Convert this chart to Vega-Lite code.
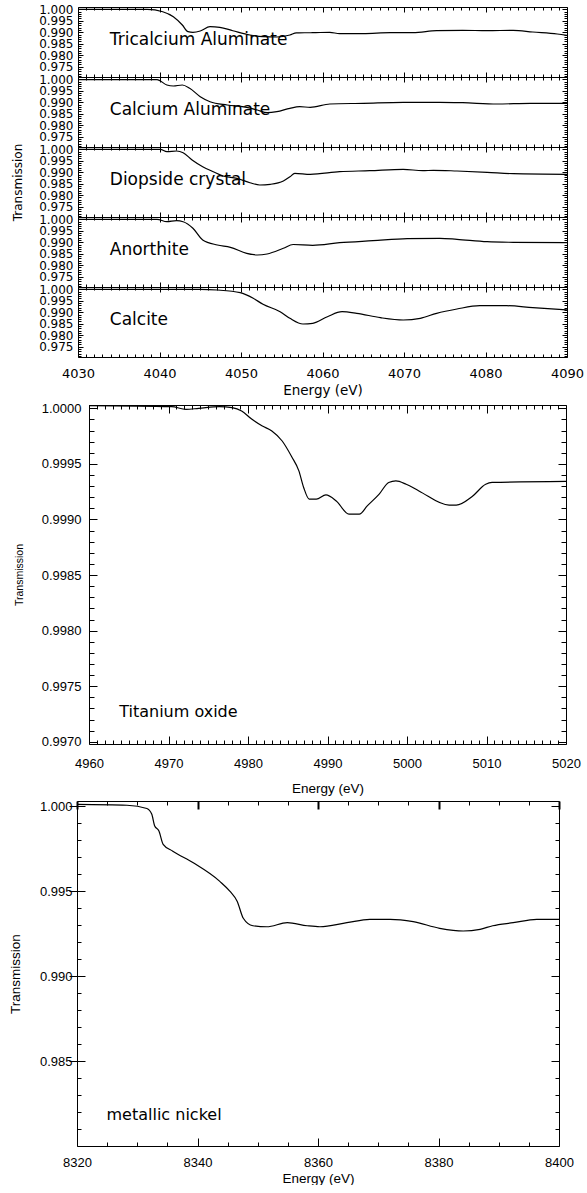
{
  "$schema": "https://vega.github.io/schema/vega-lite/v6.json",
  "padding": {"left": 3, "top": 2, "right": 0, "bottom": 0},
  "config": {
    "view": {"stroke": "black", "strokeWidth": 1},
    "axis": {"grid": false, "domain": false, "labels": false, "ticks": true, "tickColor": "black", "tickWidth": 1, "tickOpacity": 1, "labelColor": "black", "titleColor": "black", "titleFontWeight": "normal", "labelOverlap": false, "labelFlush": false, "labelBound": false}
  },
  "datasets": {
    "tca": [
      {"E": 4030, "T": 1.0}, {"E": 4038.5, "T": 1.0}, {"E": 4040.4, "T": 0.99895}, {"E": 4041.7, "T": 0.99677},
      {"E": 4042.8, "T": 0.99316}, {"E": 4043.5, "T": 0.99024}, {"E": 4044.1, "T": 0.98998}, {"E": 4045.0, "T": 0.99054},
      {"E": 4046.2, "T": 0.99242}, {"E": 4047.4, "T": 0.99216}, {"E": 4049.0, "T": 0.99067}, {"E": 4051.1, "T": 0.9888},
      {"E": 4052.7, "T": 0.98806}, {"E": 4054.4, "T": 0.98793}, {"E": 4056.0, "T": 0.9888}, {"E": 4056.8, "T": 0.98975},
      {"E": 4058.8, "T": 0.9898}, {"E": 4060.9, "T": 0.98998}, {"E": 4062.1, "T": 0.98937}, {"E": 4065.0, "T": 0.98937},
      {"E": 4068.3, "T": 0.9898}, {"E": 4071.1, "T": 0.9898}, {"E": 4074.0, "T": 0.99067}, {"E": 4077.2, "T": 0.99085},
      {"E": 4080.2, "T": 0.99067}, {"E": 4083.4, "T": 0.99085}, {"E": 4085.8, "T": 0.99011}, {"E": 4088.8, "T": 0.98924},
      {"E": 4090, "T": 0.98867}
    ],
    "cal": [
      {"E": 4030, "T": 0.9999}, {"E": 4039.7, "T": 0.9999}, {"E": 4040.9, "T": 0.99751}, {"E": 4041.7, "T": 0.99708},
      {"E": 4042.8, "T": 0.99751}, {"E": 4043.7, "T": 0.99608}, {"E": 4045.0, "T": 0.99242}, {"E": 4046.2, "T": 0.99024},
      {"E": 4048.3, "T": 0.9888}, {"E": 4050.7, "T": 0.9878}, {"E": 4052.0, "T": 0.98662}, {"E": 4053.2, "T": 0.98544},
      {"E": 4054.4, "T": 0.98588}, {"E": 4056.0, "T": 0.98736}, {"E": 4057.2, "T": 0.98806}, {"E": 4058.5, "T": 0.9878},
      {"E": 4060.9, "T": 0.98924}, {"E": 4065.0, "T": 0.98954}, {"E": 4069.9, "T": 0.98998}, {"E": 4074.4, "T": 0.98998},
      {"E": 4077.2, "T": 0.9898}, {"E": 4081.4, "T": 0.98924}, {"E": 4085.5, "T": 0.98954}, {"E": 4090, "T": 0.98954}
    ],
    "dio": [
      {"E": 4030, "T": 1.0}, {"E": 4040.1, "T": 1.0}, {"E": 4040.9, "T": 0.99895}, {"E": 4042.1, "T": 0.99926},
      {"E": 4042.9, "T": 0.99852}, {"E": 4044.0, "T": 0.99534}, {"E": 4045.3, "T": 0.99242}, {"E": 4046.6, "T": 0.99024},
      {"E": 4047.8, "T": 0.98836}, {"E": 4049.5, "T": 0.98736}, {"E": 4051.1, "T": 0.98544}, {"E": 4052.3, "T": 0.98444},
      {"E": 4053.6, "T": 0.98475}, {"E": 4055.2, "T": 0.98619}, {"E": 4056.0, "T": 0.988}, {"E": 4056.6, "T": 0.98955},
      {"E": 4058.5, "T": 0.98911}, {"E": 4062.1, "T": 0.99024}, {"E": 4065.8, "T": 0.99067}, {"E": 4069.9, "T": 0.99128},
      {"E": 4072.3, "T": 0.99067}, {"E": 4073.6, "T": 0.99085}, {"E": 4076.5, "T": 0.99054}, {"E": 4080.2, "T": 0.98998},
      {"E": 4083.4, "T": 0.98937}, {"E": 4090, "T": 0.98911}
    ],
    "ano": [
      {"E": 4030, "T": 1.0}, {"E": 4039.7, "T": 1.0}, {"E": 4040.9, "T": 0.99895}, {"E": 4042.1, "T": 0.99939},
      {"E": 4042.9, "T": 0.99895}, {"E": 4044.1, "T": 0.99608}, {"E": 4045.3, "T": 0.99098}, {"E": 4047.1, "T": 0.9888},
      {"E": 4048.7, "T": 0.9878}, {"E": 4050.7, "T": 0.98518}, {"E": 4052.0, "T": 0.98444}, {"E": 4053.2, "T": 0.98488},
      {"E": 4055.2, "T": 0.98736}, {"E": 4056.4, "T": 0.98902}, {"E": 4058.8, "T": 0.98867}, {"E": 4062.1, "T": 0.9898},
      {"E": 4066.2, "T": 0.99067}, {"E": 4070.4, "T": 0.99155}, {"E": 4074.4, "T": 0.99172}, {"E": 4076.5, "T": 0.99128},
      {"E": 4080.2, "T": 0.99024}, {"E": 4083.4, "T": 0.98998}, {"E": 4090, "T": 0.9898}
    ],
    "calc": [
      {"E": 4030, "T": 1.0}, {"E": 4045.0, "T": 1.0}, {"E": 4047.1, "T": 0.99969}, {"E": 4049.9, "T": 0.99852},
      {"E": 4051.5, "T": 0.99608}, {"E": 4052.7, "T": 0.99346}, {"E": 4054.8, "T": 0.99024}, {"E": 4056.0, "T": 0.98736},
      {"E": 4057.6, "T": 0.98488}, {"E": 4058.8, "T": 0.98518}, {"E": 4060.6, "T": 0.98806}, {"E": 4062.4, "T": 0.99024},
      {"E": 4064.2, "T": 0.98954}, {"E": 4067.1, "T": 0.98762}, {"E": 4069.9, "T": 0.98662}, {"E": 4072.0, "T": 0.98736},
      {"E": 4074.0, "T": 0.98954}, {"E": 4076.5, "T": 0.99141}, {"E": 4079.3, "T": 0.99285}, {"E": 4082.6, "T": 0.99285},
      {"E": 4085.8, "T": 0.99198}, {"E": 4090, "T": 0.99098}
    ],
    "ti": [
      {"E": 4960, "T": 1.000025}, {"E": 4970.4, "T": 1.000015}, {"E": 4972.2, "T": 0.999991}, {"E": 4973.8, "T": 1.0},
      {"E": 4976.4, "T": 1.000015}, {"E": 4978.0, "T": 1.000006}, {"E": 4979.2, "T": 0.999976}, {"E": 4980.5, "T": 0.999901},
      {"E": 4981.8, "T": 0.999841}, {"E": 4983.0, "T": 0.999796}, {"E": 4984.3, "T": 0.999706}, {"E": 4985.5, "T": 0.999564},
      {"E": 4986.4, "T": 0.999437}, {"E": 4987.0, "T": 0.999288}, {"E": 4987.7, "T": 0.999183}, {"E": 4988.6, "T": 0.999183},
      {"E": 4989.8, "T": 0.999221}, {"E": 4991.1, "T": 0.999167}, {"E": 4992.7, "T": 0.999048}, {"E": 4994.0, "T": 0.999048},
      {"E": 4995.0, "T": 0.999122}, {"E": 4996.5, "T": 0.999228}, {"E": 4997.7, "T": 0.999333}, {"E": 4998.6, "T": 0.999347},
      {"E": 4999.9, "T": 0.999317}, {"E": 5001.5, "T": 0.999257}, {"E": 5005.3, "T": 0.999129}, {"E": 5006.2, "T": 0.999129},
      {"E": 5008.2, "T": 0.999207}, {"E": 5009.9, "T": 0.999317}, {"E": 5010.7, "T": 0.999333}, {"E": 5020, "T": 0.999342}
    ],
    "ni": [
      {"E": 8320, "T": 1.0001}, {"E": 8328.3, "T": 1.00005}, {"E": 8331.6, "T": 0.99986}, {"E": 8332.4, "T": 0.99953},
      {"E": 8332.9, "T": 0.99883}, {"E": 8333.6, "T": 0.99854}, {"E": 8334.3, "T": 0.99775}, {"E": 8335.9, "T": 0.99735},
      {"E": 8339.3, "T": 0.99666}, {"E": 8343.7, "T": 0.99557}, {"E": 8345.4, "T": 0.99498}, {"E": 8346.6, "T": 0.99439},
      {"E": 8347.6, "T": 0.9934}, {"E": 8349.2, "T": 0.99296}, {"E": 8351.5, "T": 0.9929}, {"E": 8354.9, "T": 0.99314},
      {"E": 8358.2, "T": 0.99296}, {"E": 8360.3, "T": 0.9929}, {"E": 8364.8, "T": 0.99314}, {"E": 8368.6, "T": 0.99334},
      {"E": 8372.0, "T": 0.99334}, {"E": 8375.8, "T": 0.9932}, {"E": 8380.2, "T": 0.99281}, {"E": 8384.1, "T": 0.99265},
      {"E": 8386.9, "T": 0.99275}, {"E": 8389.0, "T": 0.99296}, {"E": 8392.4, "T": 0.99314}, {"E": 8396.3, "T": 0.99334},
      {"E": 8400, "T": 0.99334}
    ]
  },
  "concat": [
    {
      "hconcat": [
        {"width": 7.7, "height": 1, "view": {"stroke": null}, "data": {"values": []}, "mark": "point", "encoding": {}},
        {
          "concat": [
            {
              "width": 489, "height": 70,
              "layer": [
                {"data": {"name": "tca"}, "mark": {"type": "line", "interpolate": "monotone", "color": "black", "strokeWidth": 1.2},
                 "encoding": {
                   "x": {"field": "E", "type": "quantitative", "scale": {"domain": [4030, 4090], "nice": false, "zero": false}, "axis": null},
                   "y": {"field": "T", "type": "quantitative", "scale": {"domain": [0.9705, 1.001], "nice": false, "zero": false}, "axis": {"orient": "left", "labels": true, "ticks": false, "title": null, "values": [0.975,0.98,0.985,0.99,0.995,1.0], "format": ".3f", "labelFont": "DejaVu Sans", "labelFontSize": 12, "labelPadding": 5}}
                 }},
                {"data": {"values": [{"E": 4033.9, "T": 0.9868, "label": "Tricalcium Aluminate"}]},
                 "mark": {"type": "text", "align": "left", "baseline": "middle", "font": "DejaVu Sans", "fontSize": 17, "color": "black"},
                 "encoding": {
                   "x": {"field": "E", "type": "quantitative", "scale": {"domain": [4030, 4090], "nice": false, "zero": false}, "axis": {"orient": "top", "zindex": 1, "title": null, "values": [4030,4040,4050,4060,4070,4080,4090], "tickSize": 5, "offset": -5}},
                   "y": {"field": "T", "type": "quantitative", "scale": {"domain": [0.9705, 1.001], "nice": false, "zero": false}, "axis": {"orient": "right", "zindex": 1, "title": null, "values": [0.975,0.98,0.985,0.99,0.995,1.0], "tickSize": 5, "offset": -5}},
                   "text": {"field": "label"}
                 }},
                {"data": {"values": [{"E": 4033.9, "T": 0.9868}]}, "mark": {"type": "point", "opacity": 0},
                 "encoding": {
                   "x": {"field": "E", "type": "quantitative", "scale": {"domain": [4030, 4090], "nice": false, "zero": false}, "axis": {"orient": "bottom", "zindex": 1, "title": null, "values": [4030,4040,4050,4060,4070,4080,4090], "tickSize": 5, "offset": -5}},
                   "y": {"field": "T", "type": "quantitative", "scale": {"domain": [0.9705, 1.001], "nice": false, "zero": false}, "axis": {"orient": "left", "zindex": 1, "title": null, "values": [0.975,0.98,0.985,0.99,0.995,1.0], "tickSize": 5, "offset": -5}}
                 }},
                {"data": {"values": [{"E": 4033.9, "T": 0.9868}]}, "mark": {"type": "point", "opacity": 0},
                 "encoding": {
                   "x": {"field": "E", "type": "quantitative", "scale": {"domain": [4030, 4090], "nice": false, "zero": false}, "axis": {"orient": "bottom", "zindex": 1, "title": null, "values": [4031,4032,4033,4034,4035,4036,4037,4038,4039,4041,4042,4043,4044,4045,4046,4047,4048,4049,4051,4052,4053,4054,4055,4056,4057,4058,4059,4061,4062,4063,4064,4065,4066,4067,4068,4069,4071,4072,4073,4074,4075,4076,4077,4078,4079,4081,4082,4083,4084,4085,4086,4087,4088,4089], "tickSize": 3, "offset": -3}},
                   "y": {"field": "T", "type": "quantitative", "scale": {"domain": [0.9705, 1.001], "nice": false, "zero": false}, "axis": {"orient": "left", "zindex": 1, "title": null, "values": [0.971,0.972,0.973,0.974,0.976,0.977,0.978,0.979,0.981,0.982,0.983,0.984,0.986,0.987,0.988,0.989,0.991,0.992,0.993,0.994,0.996,0.997,0.998,0.999], "tickSize": 3, "offset": -3}}
                 }},
                {"data": {"values": [{"E": 4033.9, "T": 0.9868}]}, "mark": {"type": "point", "opacity": 0},
                 "encoding": {
                   "x": {"field": "E", "type": "quantitative", "scale": {"domain": [4030, 4090], "nice": false, "zero": false}, "axis": {"orient": "top", "zindex": 1, "title": null, "values": [4031,4032,4033,4034,4035,4036,4037,4038,4039,4041,4042,4043,4044,4045,4046,4047,4048,4049,4051,4052,4053,4054,4055,4056,4057,4058,4059,4061,4062,4063,4064,4065,4066,4067,4068,4069,4071,4072,4073,4074,4075,4076,4077,4078,4079,4081,4082,4083,4084,4085,4086,4087,4088,4089], "tickSize": 3, "offset": -3}},
                   "y": {"field": "T", "type": "quantitative", "scale": {"domain": [0.9705, 1.001], "nice": false, "zero": false}, "axis": {"orient": "right", "zindex": 1, "title": null, "values": [0.971,0.972,0.973,0.974,0.976,0.977,0.978,0.979,0.981,0.982,0.983,0.984,0.986,0.987,0.988,0.989,0.991,0.992,0.993,0.994,0.996,0.997,0.998,0.999], "tickSize": 3, "offset": -3}}
                 }}
              ],
              "resolve": {"axis": {"x": "independent", "y": "independent"}}
            },
            {
              "width": 489, "height": 70,
              "layer": [
                {"data": {"name": "cal"}, "mark": {"type": "line", "interpolate": "monotone", "color": "black", "strokeWidth": 1.2},
                 "encoding": {
                   "x": {"field": "E", "type": "quantitative", "scale": {"domain": [4030, 4090], "nice": false, "zero": false}, "axis": null},
                   "y": {"field": "T", "type": "quantitative", "scale": {"domain": [0.9705, 1.001], "nice": false, "zero": false}, "axis": {"orient": "left", "labels": true, "ticks": false, "title": null, "values": [0.975,0.98,0.985,0.99,0.995,1.0], "format": ".3f", "labelFont": "DejaVu Sans", "labelFontSize": 12, "labelPadding": 5}}
                 }},
                {"data": {"values": [{"E": 4033.9, "T": 0.9868, "label": "Calcium Aluminate"}]},
                 "mark": {"type": "text", "align": "left", "baseline": "middle", "font": "DejaVu Sans", "fontSize": 17, "color": "black"},
                 "encoding": {
                   "x": {"field": "E", "type": "quantitative", "scale": {"domain": [4030, 4090], "nice": false, "zero": false}, "axis": {"orient": "top", "title": null, "values": [4030,4040,4050,4060,4070,4080,4090], "tickSize": 5, "offset": -5}},
                   "y": {"field": "T", "type": "quantitative", "scale": {"domain": [0.9705, 1.001], "nice": false, "zero": false}, "axis": {"orient": "right", "title": null, "values": [0.975,0.98,0.985,0.99,0.995,1.0], "tickSize": 5, "offset": -5}},
                   "text": {"field": "label"}
                 }},
                {"data": {"values": [{"E": 4033.9, "T": 0.9868}]}, "mark": {"type": "point", "opacity": 0},
                 "encoding": {
                   "x": {"field": "E", "type": "quantitative", "scale": {"domain": [4030, 4090], "nice": false, "zero": false}, "axis": {"orient": "bottom", "title": null, "values": [4030,4040,4050,4060,4070,4080,4090], "tickSize": 5, "offset": -5}},
                   "y": {"field": "T", "type": "quantitative", "scale": {"domain": [0.9705, 1.001], "nice": false, "zero": false}, "axis": {"orient": "left", "title": null, "values": [0.975,0.98,0.985,0.99,0.995,1.0], "tickSize": 5, "offset": -5}}
                 }},
                {"data": {"values": [{"E": 4033.9, "T": 0.9868}]}, "mark": {"type": "point", "opacity": 0},
                 "encoding": {
                   "x": {"field": "E", "type": "quantitative", "scale": {"domain": [4030, 4090], "nice": false, "zero": false}, "axis": {"orient": "bottom", "title": null, "values": [4031,4032,4033,4034,4035,4036,4037,4038,4039,4041,4042,4043,4044,4045,4046,4047,4048,4049,4051,4052,4053,4054,4055,4056,4057,4058,4059,4061,4062,4063,4064,4065,4066,4067,4068,4069,4071,4072,4073,4074,4075,4076,4077,4078,4079,4081,4082,4083,4084,4085,4086,4087,4088,4089], "tickSize": 3, "offset": -3}},
                   "y": {"field": "T", "type": "quantitative", "scale": {"domain": [0.9705, 1.001], "nice": false, "zero": false}, "axis": {"orient": "left", "title": null, "values": [0.971,0.972,0.973,0.974,0.976,0.977,0.978,0.979,0.981,0.982,0.983,0.984,0.986,0.987,0.988,0.989,0.991,0.992,0.993,0.994,0.996,0.997,0.998,0.999], "tickSize": 3, "offset": -3}}
                 }},
                {"data": {"values": [{"E": 4033.9, "T": 0.9868}]}, "mark": {"type": "point", "opacity": 0},
                 "encoding": {
                   "x": {"field": "E", "type": "quantitative", "scale": {"domain": [4030, 4090], "nice": false, "zero": false}, "axis": {"orient": "top", "title": null, "values": [4031,4032,4033,4034,4035,4036,4037,4038,4039,4041,4042,4043,4044,4045,4046,4047,4048,4049,4051,4052,4053,4054,4055,4056,4057,4058,4059,4061,4062,4063,4064,4065,4066,4067,4068,4069,4071,4072,4073,4074,4075,4076,4077,4078,4079,4081,4082,4083,4084,4085,4086,4087,4088,4089], "tickSize": 3, "offset": -3}},
                   "y": {"field": "T", "type": "quantitative", "scale": {"domain": [0.9705, 1.001], "nice": false, "zero": false}, "axis": {"orient": "right", "title": null, "values": [0.971,0.972,0.973,0.974,0.976,0.977,0.978,0.979,0.981,0.982,0.983,0.984,0.986,0.987,0.988,0.989,0.991,0.992,0.993,0.994,0.996,0.997,0.998,0.999], "tickSize": 3, "offset": -3}}
                 }}
              ],
              "resolve": {"axis": {"x": "independent", "y": "independent"}}
            },
            {
              "width": 489, "height": 70,
              "layer": [
                {"data": {"name": "dio"}, "mark": {"type": "line", "interpolate": "monotone", "color": "black", "strokeWidth": 1.2},
                 "encoding": {
                   "x": {"field": "E", "type": "quantitative", "scale": {"domain": [4030, 4090], "nice": false, "zero": false}, "axis": null},
                   "y": {"field": "T", "type": "quantitative", "scale": {"domain": [0.9705, 1.001], "nice": false, "zero": false}, "axis": {"orient": "left", "labels": true, "ticks": false, "title": "Transmission", "titleFont": "DejaVu Sans", "titleFontSize": 12, "titlePadding": 14, "values": [0.975,0.98,0.985,0.99,0.995,1.0], "format": ".3f", "labelFont": "DejaVu Sans", "labelFontSize": 12, "labelPadding": 5}}
                 }},
                {"data": {"values": [{"E": 4033.9, "T": 0.9868, "label": "Diopside crystal"}]},
                 "mark": {"type": "text", "align": "left", "baseline": "middle", "font": "DejaVu Sans", "fontSize": 17, "color": "black"},
                 "encoding": {
                   "x": {"field": "E", "type": "quantitative", "scale": {"domain": [4030, 4090], "nice": false, "zero": false}, "axis": {"orient": "top", "title": null, "values": [4030,4040,4050,4060,4070,4080,4090], "tickSize": 5, "offset": -5}},
                   "y": {"field": "T", "type": "quantitative", "scale": {"domain": [0.9705, 1.001], "nice": false, "zero": false}, "axis": {"orient": "right", "title": null, "values": [0.975,0.98,0.985,0.99,0.995,1.0], "tickSize": 5, "offset": -5}},
                   "text": {"field": "label"}
                 }},
                {"data": {"values": [{"E": 4033.9, "T": 0.9868}]}, "mark": {"type": "point", "opacity": 0},
                 "encoding": {
                   "x": {"field": "E", "type": "quantitative", "scale": {"domain": [4030, 4090], "nice": false, "zero": false}, "axis": {"orient": "bottom", "title": null, "values": [4030,4040,4050,4060,4070,4080,4090], "tickSize": 5, "offset": -5}},
                   "y": {"field": "T", "type": "quantitative", "scale": {"domain": [0.9705, 1.001], "nice": false, "zero": false}, "axis": {"orient": "left", "title": null, "values": [0.975,0.98,0.985,0.99,0.995,1.0], "tickSize": 5, "offset": -5}}
                 }},
                {"data": {"values": [{"E": 4033.9, "T": 0.9868}]}, "mark": {"type": "point", "opacity": 0},
                 "encoding": {
                   "x": {"field": "E", "type": "quantitative", "scale": {"domain": [4030, 4090], "nice": false, "zero": false}, "axis": {"orient": "bottom", "title": null, "values": [4031,4032,4033,4034,4035,4036,4037,4038,4039,4041,4042,4043,4044,4045,4046,4047,4048,4049,4051,4052,4053,4054,4055,4056,4057,4058,4059,4061,4062,4063,4064,4065,4066,4067,4068,4069,4071,4072,4073,4074,4075,4076,4077,4078,4079,4081,4082,4083,4084,4085,4086,4087,4088,4089], "tickSize": 3, "offset": -3}},
                   "y": {"field": "T", "type": "quantitative", "scale": {"domain": [0.9705, 1.001], "nice": false, "zero": false}, "axis": {"orient": "left", "title": null, "values": [0.971,0.972,0.973,0.974,0.976,0.977,0.978,0.979,0.981,0.982,0.983,0.984,0.986,0.987,0.988,0.989,0.991,0.992,0.993,0.994,0.996,0.997,0.998,0.999], "tickSize": 3, "offset": -3}}
                 }},
                {"data": {"values": [{"E": 4033.9, "T": 0.9868}]}, "mark": {"type": "point", "opacity": 0},
                 "encoding": {
                   "x": {"field": "E", "type": "quantitative", "scale": {"domain": [4030, 4090], "nice": false, "zero": false}, "axis": {"orient": "top", "title": null, "values": [4031,4032,4033,4034,4035,4036,4037,4038,4039,4041,4042,4043,4044,4045,4046,4047,4048,4049,4051,4052,4053,4054,4055,4056,4057,4058,4059,4061,4062,4063,4064,4065,4066,4067,4068,4069,4071,4072,4073,4074,4075,4076,4077,4078,4079,4081,4082,4083,4084,4085,4086,4087,4088,4089], "tickSize": 3, "offset": -3}},
                   "y": {"field": "T", "type": "quantitative", "scale": {"domain": [0.9705, 1.001], "nice": false, "zero": false}, "axis": {"orient": "right", "title": null, "values": [0.971,0.972,0.973,0.974,0.976,0.977,0.978,0.979,0.981,0.982,0.983,0.984,0.986,0.987,0.988,0.989,0.991,0.992,0.993,0.994,0.996,0.997,0.998,0.999], "tickSize": 3, "offset": -3}}
                 }}
              ],
              "resolve": {"axis": {"x": "independent", "y": "independent"}}
            },
            {
              "width": 489, "height": 70,
              "layer": [
                {"data": {"name": "ano"}, "mark": {"type": "line", "interpolate": "monotone", "color": "black", "strokeWidth": 1.2},
                 "encoding": {
                   "x": {"field": "E", "type": "quantitative", "scale": {"domain": [4030, 4090], "nice": false, "zero": false}, "axis": null},
                   "y": {"field": "T", "type": "quantitative", "scale": {"domain": [0.9705, 1.001], "nice": false, "zero": false}, "axis": {"orient": "left", "labels": true, "ticks": false, "title": null, "values": [0.975,0.98,0.985,0.99,0.995,1.0], "format": ".3f", "labelFont": "DejaVu Sans", "labelFontSize": 12, "labelPadding": 5}}
                 }},
                {"data": {"values": [{"E": 4033.9, "T": 0.9868, "label": "Anorthite"}]},
                 "mark": {"type": "text", "align": "left", "baseline": "middle", "font": "DejaVu Sans", "fontSize": 17, "color": "black"},
                 "encoding": {
                   "x": {"field": "E", "type": "quantitative", "scale": {"domain": [4030, 4090], "nice": false, "zero": false}, "axis": {"orient": "top", "title": null, "values": [4030,4040,4050,4060,4070,4080,4090], "tickSize": 5, "offset": -5}},
                   "y": {"field": "T", "type": "quantitative", "scale": {"domain": [0.9705, 1.001], "nice": false, "zero": false}, "axis": {"orient": "right", "title": null, "values": [0.975,0.98,0.985,0.99,0.995,1.0], "tickSize": 5, "offset": -5}},
                   "text": {"field": "label"}
                 }},
                {"data": {"values": [{"E": 4033.9, "T": 0.9868}]}, "mark": {"type": "point", "opacity": 0},
                 "encoding": {
                   "x": {"field": "E", "type": "quantitative", "scale": {"domain": [4030, 4090], "nice": false, "zero": false}, "axis": {"orient": "bottom", "title": null, "values": [4030,4040,4050,4060,4070,4080,4090], "tickSize": 5, "offset": -5}},
                   "y": {"field": "T", "type": "quantitative", "scale": {"domain": [0.9705, 1.001], "nice": false, "zero": false}, "axis": {"orient": "left", "title": null, "values": [0.975,0.98,0.985,0.99,0.995,1.0], "tickSize": 5, "offset": -5}}
                 }},
                {"data": {"values": [{"E": 4033.9, "T": 0.9868}]}, "mark": {"type": "point", "opacity": 0},
                 "encoding": {
                   "x": {"field": "E", "type": "quantitative", "scale": {"domain": [4030, 4090], "nice": false, "zero": false}, "axis": {"orient": "bottom", "title": null, "values": [4031,4032,4033,4034,4035,4036,4037,4038,4039,4041,4042,4043,4044,4045,4046,4047,4048,4049,4051,4052,4053,4054,4055,4056,4057,4058,4059,4061,4062,4063,4064,4065,4066,4067,4068,4069,4071,4072,4073,4074,4075,4076,4077,4078,4079,4081,4082,4083,4084,4085,4086,4087,4088,4089], "tickSize": 3, "offset": -3}},
                   "y": {"field": "T", "type": "quantitative", "scale": {"domain": [0.9705, 1.001], "nice": false, "zero": false}, "axis": {"orient": "left", "title": null, "values": [0.971,0.972,0.973,0.974,0.976,0.977,0.978,0.979,0.981,0.982,0.983,0.984,0.986,0.987,0.988,0.989,0.991,0.992,0.993,0.994,0.996,0.997,0.998,0.999], "tickSize": 3, "offset": -3}}
                 }},
                {"data": {"values": [{"E": 4033.9, "T": 0.9868}]}, "mark": {"type": "point", "opacity": 0},
                 "encoding": {
                   "x": {"field": "E", "type": "quantitative", "scale": {"domain": [4030, 4090], "nice": false, "zero": false}, "axis": {"orient": "top", "title": null, "values": [4031,4032,4033,4034,4035,4036,4037,4038,4039,4041,4042,4043,4044,4045,4046,4047,4048,4049,4051,4052,4053,4054,4055,4056,4057,4058,4059,4061,4062,4063,4064,4065,4066,4067,4068,4069,4071,4072,4073,4074,4075,4076,4077,4078,4079,4081,4082,4083,4084,4085,4086,4087,4088,4089], "tickSize": 3, "offset": -3}},
                   "y": {"field": "T", "type": "quantitative", "scale": {"domain": [0.9705, 1.001], "nice": false, "zero": false}, "axis": {"orient": "right", "title": null, "values": [0.971,0.972,0.973,0.974,0.976,0.977,0.978,0.979,0.981,0.982,0.983,0.984,0.986,0.987,0.988,0.989,0.991,0.992,0.993,0.994,0.996,0.997,0.998,0.999], "tickSize": 3, "offset": -3}}
                 }}
              ],
              "resolve": {"axis": {"x": "independent", "y": "independent"}}
            },
            {
              "width": 489, "height": 70,
              "layer": [
                {"data": {"name": "calc"}, "mark": {"type": "line", "interpolate": "monotone", "color": "black", "strokeWidth": 1.2},
                 "encoding": {
                   "x": {"field": "E", "type": "quantitative", "scale": {"domain": [4030, 4090], "nice": false, "zero": false}, "axis": {"orient": "bottom", "labels": true, "ticks": false, "title": "Energy (eV)", "titleFont": "DejaVu Sans", "titleFontSize": 13.5, "titlePadding": 3, "values": [4030,4040,4050,4060,4070,4080,4090], "format": "d", "labelFont": "DejaVu Sans", "labelFontSize": 13, "labelPadding": 10}},
                   "y": {"field": "T", "type": "quantitative", "scale": {"domain": [0.9705, 1.001], "nice": false, "zero": false}, "axis": {"orient": "left", "labels": true, "ticks": false, "title": null, "values": [0.975,0.98,0.985,0.99,0.995,1.0], "format": ".3f", "labelFont": "DejaVu Sans", "labelFontSize": 12, "labelPadding": 5}}
                 }},
                {"data": {"values": [{"E": 4033.9, "T": 0.9868, "label": "Calcite"}]},
                 "mark": {"type": "text", "align": "left", "baseline": "middle", "font": "DejaVu Sans", "fontSize": 17, "color": "black"},
                 "encoding": {
                   "x": {"field": "E", "type": "quantitative", "scale": {"domain": [4030, 4090], "nice": false, "zero": false}, "axis": {"orient": "top", "title": null, "values": [4030,4040,4050,4060,4070,4080,4090], "tickSize": 5, "offset": -5}},
                   "y": {"field": "T", "type": "quantitative", "scale": {"domain": [0.9705, 1.001], "nice": false, "zero": false}, "axis": {"orient": "right", "title": null, "values": [0.975,0.98,0.985,0.99,0.995,1.0], "tickSize": 5, "offset": -5}},
                   "text": {"field": "label"}
                 }},
                {"data": {"values": [{"E": 4033.9, "T": 0.9868}]}, "mark": {"type": "point", "opacity": 0},
                 "encoding": {
                   "x": {"field": "E", "type": "quantitative", "scale": {"domain": [4030, 4090], "nice": false, "zero": false}, "axis": {"orient": "bottom", "title": null, "values": [4030,4040,4050,4060,4070,4080,4090], "tickSize": 5, "offset": -5}},
                   "y": {"field": "T", "type": "quantitative", "scale": {"domain": [0.9705, 1.001], "nice": false, "zero": false}, "axis": {"orient": "left", "title": null, "values": [0.975,0.98,0.985,0.99,0.995,1.0], "tickSize": 5, "offset": -5}}
                 }},
                {"data": {"values": [{"E": 4033.9, "T": 0.9868}]}, "mark": {"type": "point", "opacity": 0},
                 "encoding": {
                   "x": {"field": "E", "type": "quantitative", "scale": {"domain": [4030, 4090], "nice": false, "zero": false}, "axis": {"orient": "bottom", "title": null, "values": [4031,4032,4033,4034,4035,4036,4037,4038,4039,4041,4042,4043,4044,4045,4046,4047,4048,4049,4051,4052,4053,4054,4055,4056,4057,4058,4059,4061,4062,4063,4064,4065,4066,4067,4068,4069,4071,4072,4073,4074,4075,4076,4077,4078,4079,4081,4082,4083,4084,4085,4086,4087,4088,4089], "tickSize": 3, "offset": -3}},
                   "y": {"field": "T", "type": "quantitative", "scale": {"domain": [0.9705, 1.001], "nice": false, "zero": false}, "axis": {"orient": "left", "title": null, "values": [0.971,0.972,0.973,0.974,0.976,0.977,0.978,0.979,0.981,0.982,0.983,0.984,0.986,0.987,0.988,0.989,0.991,0.992,0.993,0.994,0.996,0.997,0.998,0.999], "tickSize": 3, "offset": -3}}
                 }},
                {"data": {"values": [{"E": 4033.9, "T": 0.9868}]}, "mark": {"type": "point", "opacity": 0},
                 "encoding": {
                   "x": {"field": "E", "type": "quantitative", "scale": {"domain": [4030, 4090], "nice": false, "zero": false}, "axis": {"orient": "top", "title": null, "values": [4031,4032,4033,4034,4035,4036,4037,4038,4039,4041,4042,4043,4044,4045,4046,4047,4048,4049,4051,4052,4053,4054,4055,4056,4057,4058,4059,4061,4062,4063,4064,4065,4066,4067,4068,4069,4071,4072,4073,4074,4075,4076,4077,4078,4079,4081,4082,4083,4084,4085,4086,4087,4088,4089], "tickSize": 3, "offset": -3}},
                   "y": {"field": "T", "type": "quantitative", "scale": {"domain": [0.9705, 1.001], "nice": false, "zero": false}, "axis": {"orient": "right", "title": null, "values": [0.971,0.972,0.973,0.974,0.976,0.977,0.978,0.979,0.981,0.982,0.983,0.984,0.986,0.987,0.988,0.989,0.991,0.992,0.993,0.994,0.996,0.997,0.998,0.999], "tickSize": 3, "offset": -3}}
                 }}
              ],
              "resolve": {"axis": {"x": "independent", "y": "independent"}}
            }
          ],
          "columns": 1, "spacing": 0, "bounds": "flush", "align": "all"
        }
      ],
      "spacing": 0
    },
    {
      "hconcat": [
        {"width": 9.75, "height": 1, "view": {"stroke": null}, "data": {"values": []}, "mark": "point", "encoding": {}},
        {
          "width": 477, "height": 339,
          "layer": [
            {"data": {"name": "ti"}, "mark": {"type": "line", "interpolate": "monotone", "color": "black", "strokeWidth": 1.2},
             "encoding": {
               "x": {"field": "E", "type": "quantitative", "scale": {"domain": [4960, 5020], "nice": false, "zero": false}, "axis": {"orient": "bottom", "labels": true, "ticks": false, "title": "Energy (eV)", "titleFont": "Liberation Sans", "titleFontSize": 13.5, "titlePadding": 11, "values": [4960,4970,4980,4990,5000,5010,5020], "format": "d", "labelFont": "Liberation Sans", "labelFontSize": 13, "labelPadding": 13}},
               "y": {"field": "T", "type": "quantitative", "scale": {"domain": [0.99698, 1.00003], "nice": false, "zero": false}, "axis": {"orient": "left", "labels": true, "ticks": false, "title": "Transmission", "titleFont": "Liberation Sans", "titleFontSize": 10.5, "titlePadding": 17, "values": [0.997,0.9975,0.998,0.9985,0.999,0.9995,1.0], "format": ".4f", "labelFont": "Liberation Sans", "labelFontSize": 13, "labelPadding": 8}}
             }},
            {"data": {"values": [{"E": 4963.8, "T": 0.99727, "label": "Titanium oxide"}]},
             "mark": {"type": "text", "align": "left", "baseline": "middle", "font": "DejaVu Sans", "fontSize": 16, "color": "black"},
             "encoding": {
               "x": {"field": "E", "type": "quantitative", "scale": {"domain": [4960, 5020], "nice": false, "zero": false}, "axis": {"orient": "top", "title": null, "values": [4960,4970,4980,4990,5000,5010,5020], "tickSize": -8}},
               "y": {"field": "T", "type": "quantitative", "scale": {"domain": [0.99698, 1.00003], "nice": false, "zero": false}, "axis": {"orient": "right", "title": null, "values": [0.997,0.9975,0.998,0.9985,0.999,0.9995,1.0], "tickSize": -8}},
               "text": {"field": "label"}
             }},
            {"data": {"values": [{"E": 4963.8, "T": 0.99727}]}, "mark": {"type": "point", "opacity": 0},
             "encoding": {
               "x": {"field": "E", "type": "quantitative", "scale": {"domain": [4960, 5020], "nice": false, "zero": false}, "axis": {"orient": "bottom", "title": null, "tickCount": 7, "tickSize": -8}},
               "y": {"field": "T", "type": "quantitative", "scale": {"domain": [0.99698, 1.00003], "nice": false, "zero": false}, "axis": {"orient": "left", "title": null, "tickCount": 7, "tickSize": -8}}
             }},
            {"data": {"values": [{"E": 4963.8, "T": 0.99727}]}, "mark": {"type": "point", "opacity": 0},
             "encoding": {
               "x": {"field": "E", "type": "quantitative", "scale": {"domain": [4960, 5020], "nice": false, "zero": false}, "axis": {"orient": "bottom", "title": null, "values": [4961,4962,4963,4964,4965,4966,4967,4968,4969,4971,4972,4973,4974,4975,4976,4977,4978,4979,4981,4982,4983,4984,4985,4986,4987,4988,4989,4991,4992,4993,4994,4995,4996,4997,4998,4999,5001,5002,5003,5004,5005,5006,5007,5008,5009,5011,5012,5013,5014,5015,5016,5017,5018,5019], "tickSize": 4, "offset": -4}},
               "y": {"field": "T", "type": "quantitative", "scale": {"domain": [0.99698, 1.00003], "nice": false, "zero": false}, "axis": {"orient": "left", "title": null, "values": [0.9971,0.9972,0.9973,0.9974,0.9976,0.9977,0.9978,0.9979,0.9981,0.9982,0.9983,0.9984,0.9986,0.9987,0.9988,0.9989,0.9991,0.9992,0.9993,0.9994,0.9996,0.9997,0.9998,0.9999], "tickSize": 5, "offset": -5}}
             }},
            {"data": {"values": [{"E": 4963.8, "T": 0.99727}]}, "mark": {"type": "point", "opacity": 0},
             "encoding": {
               "x": {"field": "E", "type": "quantitative", "scale": {"domain": [4960, 5020], "nice": false, "zero": false}, "axis": {"orient": "top", "title": null, "values": [4961,4962,4963,4964,4965,4966,4967,4968,4969,4971,4972,4973,4974,4975,4976,4977,4978,4979,4981,4982,4983,4984,4985,4986,4987,4988,4989,4991,4992,4993,4994,4995,4996,4997,4998,4999,5001,5002,5003,5004,5005,5006,5007,5008,5009,5011,5012,5013,5014,5015,5016,5017,5018,5019], "tickSize": 4, "offset": -4}},
               "y": {"field": "T", "type": "quantitative", "scale": {"domain": [0.99698, 1.00003], "nice": false, "zero": false}, "axis": {"orient": "right", "title": null, "values": [0.9971,0.9972,0.9973,0.9974,0.9976,0.9977,0.9978,0.9979,0.9981,0.9982,0.9983,0.9984,0.9986,0.9987,0.9988,0.9989,0.9991,0.9992,0.9993,0.9994,0.9996,0.9997,0.9998,0.9999], "tickSize": 5, "offset": -5}}
             }}
          ],
          "resolve": {"axis": {"x": "independent", "y": "independent"}}
        }
      ],
      "spacing": 0
    },
    {
      "hconcat": [
        {"width": 4.5, "height": 1, "view": {"stroke": null}, "data": {"values": []}, "mark": "point", "encoding": {}},
        {
          "width": 482, "height": 345,
          "layer": [
            {"data": {"name": "ni"}, "mark": {"type": "line", "interpolate": "monotone", "color": "black", "strokeWidth": 1.2},
             "encoding": {
               "x": {"field": "E", "type": "quantitative", "scale": {"domain": [8320, 8400], "nice": false, "zero": false}, "axis": {"orient": "bottom", "labels": true, "ticks": false, "title": "Energy (eV)", "titleFont": "Liberation Sans", "titleFontSize": 13.5, "titlePadding": 2, "values": [8320,8340,8360,8380,8400], "format": "d", "labelFont": "Liberation Sans", "labelFontSize": 13, "labelPadding": 10}},
               "y": {"field": "T", "type": "quantitative", "scale": {"domain": [0.98, 1.0003], "nice": false, "zero": false}, "axis": {"orient": "left", "labels": true, "ticks": true, "tickSize": 8, "title": "Transmission", "titleFont": "Liberation Sans", "titleFontSize": 13.5, "titlePadding": 16.5, "values": [0.985,0.99,0.995,1.0], "format": ".3f", "labelFont": "Liberation Sans", "labelFontSize": 13, "labelPadding": -3}}
             }},
            {"data": {"values": [{"E": 8324.9, "T": 0.9818, "label": "metallic nickel"}]},
             "mark": {"type": "text", "align": "left", "baseline": "middle", "font": "DejaVu Sans", "fontSize": 16, "color": "black"},
             "encoding": {
               "x": {"field": "E", "type": "quantitative", "scale": {"domain": [8320, 8400], "nice": false, "zero": false}, "axis": {"orient": "top", "title": null, "values": [8320,8340,8360,8380,8400], "tickSize": 8, "tickWidth": 2, "offset": -8}},
               "y": {"field": "T", "type": "quantitative", "scale": {"domain": [0.98, 1.0003], "nice": false, "zero": false}, "axis": {"orient": "right", "title": null, "values": [0.985,0.99,0.995,1.0], "tickSize": 8, "offset": -8}},
               "text": {"field": "label"}
             }},
            {"data": {"values": [{"E": 8324.9, "T": 0.9818}]}, "mark": {"type": "point", "opacity": 0},
             "encoding": {
               "x": {"field": "E", "type": "quantitative", "scale": {"domain": [8320, 8400], "nice": false, "zero": false}, "axis": {"orient": "bottom", "title": null, "values": [8320,8340,8360,8380,8400], "tickSize": 8, "offset": -8}},
               "y": {"field": "T", "type": "quantitative", "scale": {"domain": [0.98, 1.0003], "nice": false, "zero": false}, "axis": {"orient": "left", "title": null, "values": [0.985,0.99,0.995,1.0], "tickSize": 8, "offset": -8}}
             }},
            {"data": {"values": [{"E": 8324.9, "T": 0.9818}]}, "mark": {"type": "point", "opacity": 0},
             "encoding": {
               "x": {"field": "E", "type": "quantitative", "scale": {"domain": [8320, 8400], "nice": false, "zero": false}, "axis": {"orient": "bottom", "title": null, "values": [8325,8330,8335,8345,8350,8355,8365,8370,8375,8385,8390,8395], "tickSize": 4, "offset": -4}},
               "y": {"field": "T", "type": "quantitative", "scale": {"domain": [0.98, 1.0003], "nice": false, "zero": false}, "axis": {"orient": "left", "title": null, "values": [0.981,0.982,0.983,0.984,0.986,0.987,0.988,0.989,0.991,0.992,0.993,0.994,0.996,0.997,0.998,0.999], "tickSize": 4, "offset": -4}}
             }},
            {"data": {"values": [{"E": 8324.9, "T": 0.9818}]}, "mark": {"type": "point", "opacity": 0},
             "encoding": {
               "x": {"field": "E", "type": "quantitative", "scale": {"domain": [8320, 8400], "nice": false, "zero": false}, "axis": {"orient": "top", "title": null, "values": [8325,8330,8335,8345,8350,8355,8365,8370,8375,8385,8390,8395], "tickSize": 4, "offset": -4}},
               "y": {"field": "T", "type": "quantitative", "scale": {"domain": [0.98, 1.0003], "nice": false, "zero": false}, "axis": {"orient": "right", "title": null, "values": [0.981,0.982,0.983,0.984,0.986,0.987,0.988,0.989,0.991,0.992,0.993,0.994,0.996,0.997,0.998,0.999], "tickSize": 4, "offset": -4}}
             }}
          ],
          "resolve": {"axis": {"x": "independent", "y": "independent"}}
        }
      ],
      "spacing": 0
    }
  ],
  "columns": 1, "spacing": 4
}
